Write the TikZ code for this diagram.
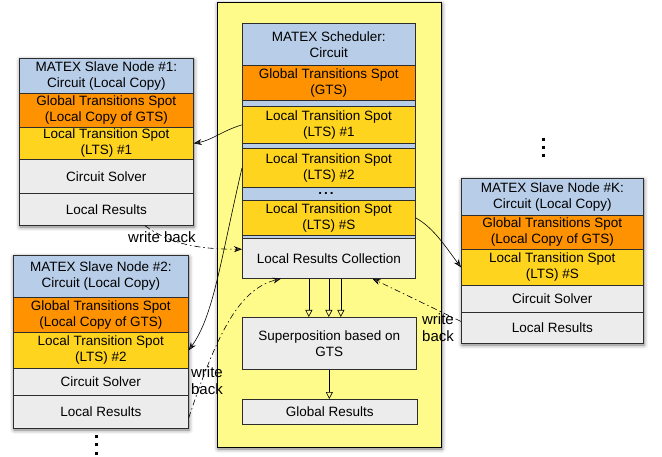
\documentclass[tikz,border=0pt]{standalone}
\usepackage{fontspec}
\setmainfont{Liberation Sans}
\usetikzlibrary{arrows.meta,shadows.blur}

\definecolor{hdrblue}{RGB}{184,205,232}
\definecolor{gtsorange}{RGB}{255,146,0}
\definecolor{ltsyellow}{RGB}{255,212,30}
\definecolor{cellgray}{RGB}{236,236,236}
\definecolor{panelyellow}{RGB}{255,251,138}
\definecolor{edgegray}{RGB}{45,45,45}

\begin{document}
\begin{tikzpicture}[x=1pt,y=-1pt,
    font=\fontsize{13.5}{16}\selectfont,
    cell/.style={draw=edgegray, line width=0.7pt, inner sep=0pt, anchor=north west, align=center},
    hdr/.style={cell, fill=hdrblue},
    gts/.style={cell, fill=gtsorange},
    lts/.style={cell, fill=ltsyellow},
    graycell/.style={cell, fill=cellgray},
    slavebox/.style={fill=white, blur shadow={shadow xshift=1pt, shadow yshift=-2pt, shadow blur radius=4pt, shadow opacity=55}},
    send/.style={-{Stealth[length=8pt,width=6pt]}, line width=0.6pt},
    writeback/.style={send, dash pattern=on 6pt off 3pt on 1.5pt off 3pt},
    collect/.style={-{Triangle[open,length=7pt,width=7pt]}, line width=0.6pt},
    wblabel/.style={font=\fontsize{15}{17}\selectfont, align=left, inner sep=0pt}]
        \useasboundingbox (0,0) rectangle (662,457);

        % scheduler panel
        \path[slavebox, fill=panelyellow, draw=black, line width=0.8pt] (217,2) rectangle (441,447);
        \filldraw[fill=hdrblue, draw=edgegray, line width=0.7pt] (242,23) rectangle (415,238);

        \node[hdr, minimum width=173pt, minimum height=42pt] (sched) at (242,23) {MATEX Scheduler:\\Circuit};
        \node[gts, minimum width=173pt, minimum height=35pt] (gts) at (242,65) {Global Transitions Spot\\(GTS)};
        \node[lts, minimum width=173pt, minimum height=37pt] (lts1) at (242,106) {Local Transition Spot\\(LTS) \#1};
        \node[lts, minimum width=173pt, minimum height=39pt] (lts2) at (242,148) {Local Transition Spot\\(LTS) \#2};
        \node[font=\bfseries\fontsize{13.5}{16}\selectfont, inner sep=0pt] (ltsmore) at (326,193) {.\hspace{2pt}.\hspace{2pt}.};
        \node[lts, minimum width=173pt, minimum height=35pt] (ltsS) at (242,200) {Local Transition Spot\\(LTS) \#S};
        \node[graycell, minimum width=173pt, minimum height=40pt] (lrc) at (242,238) {Local Results Collection};
        \node[graycell, minimum width=174pt, minimum height=52pt] (sup) at (242,317) {Superposition based on\\GTS};
        \node[graycell, minimum width=175pt, minimum height=25pt] (glob) at (242,399) {Global Results};

        \draw[collect] ([xshift=-20pt]lrc.south) -- ([xshift=-20pt]lrc.south |- sup.north);
        \draw[collect] (lrc.south) -- (lrc.south |- sup.north);
        \draw[collect] ([xshift=12pt]lrc.south) -- ([xshift=12pt]lrc.south |- sup.north);
        \draw[collect] (sup.south) -- (sup.south |- glob.north);

        % slave node 1
        \path[slavebox] (19,58) rectangle (193,225);
        \node[hdr, minimum width=174pt, minimum height=35pt] (s1hdr) at (19,58) {MATEX Slave Node \#1:\\Circuit (Local Copy)};
        \node[gts, minimum width=174pt, minimum height=34pt] (s1gts) at (19,93) {Global Transitions Spot\\(Local Copy of GTS)};
        \node[lts, minimum width=174pt, minimum height=32pt] (s1lts) at (19,127) {Local Transition Spot\\(LTS) \#1};
        \node[graycell, minimum width=174pt, minimum height=34pt] (s1sol) at (19,159) {Circuit Solver};
        \node[graycell, minimum width=174pt, minimum height=32pt] (s1res) at (19,193) {Local Results};

        % slave node 2
        \path[slavebox] (13,255) rectangle (188,428);
        \node[hdr, minimum width=175pt, minimum height=42pt] (s2hdr) at (13,255) {MATEX Slave Node \#2:\\Circuit (Local Copy)};
        \node[gts, minimum width=175pt, minimum height=35pt] (s2gts) at (13,297) {Global Transitions Spot\\(Local Copy of GTS)};
        \node[lts, minimum width=175pt, minimum height=36pt] (s2lts) at (13,332) {Local Transition Spot\\(LTS) \#2};
        \node[graycell, minimum width=175pt, minimum height=27pt] (s2sol) at (13,368) {Circuit Solver};
        \node[graycell, minimum width=175pt, minimum height=33pt] (s2res) at (13,395) {Local Results};

        % slave node K
        \path[slavebox] (461,178) rectangle (643,343);
        \node[hdr, minimum width=182pt, minimum height=37pt] (sKhdr) at (461,178) {MATEX Slave Node \#K:\\Circuit (Local Copy)};
        \node[gts, minimum width=182pt, minimum height=34pt] (sKgts) at (461,215) {Global Transitions Spot\\(Local Copy of GTS)};
        \node[lts, minimum width=182pt, minimum height=36pt] (sKlts) at (461,249) {Local Transition Spot\\(LTS) \#S};
        \node[graycell, minimum width=182pt, minimum height=27pt] (sKsol) at (461,285) {Circuit Solver};
        \node[graycell, minimum width=182pt, minimum height=31pt] (sKres) at (461,312) {Local Results};

        % more slaves
        \foreach \y in {138.5,146,154} \fill (541.5,\y) rectangle +(3,3);
        \foreach \y in {434.5,443,451.5} \fill (95,\y) rectangle +(3,3);

        % spots sent out
        \draw[send] (lts1.west) .. controls +(-20,6) and +(18,-3) .. (s1lts.east);
        \draw[send] (lts2.west) .. controls +(-22,95) and +(25,-35) .. (s2lts.east);
        \draw[send] (ltsS.east) .. controls +(18,10) and +(-15,-20) .. (sKlts.west);

        % results written back
        \draw[writeback] (s1res.-23) .. controls +(25,18) and +(-45,0) .. (lrc.174);
        \draw[writeback] (s2res.-4) .. controls +(30,-90) and +(-40,10) .. (lrc.203);
        \draw[writeback] (sKres.176) -- (lrc.-25);
        \node[wblabel] (wb1) at (162,237) {write back};
        \node[wblabel] (wb2) at (207,381) {write\\back};
        \node[wblabel] (wbK) at (438,328) {write\\back};
    \end{tikzpicture}
\end{document}
